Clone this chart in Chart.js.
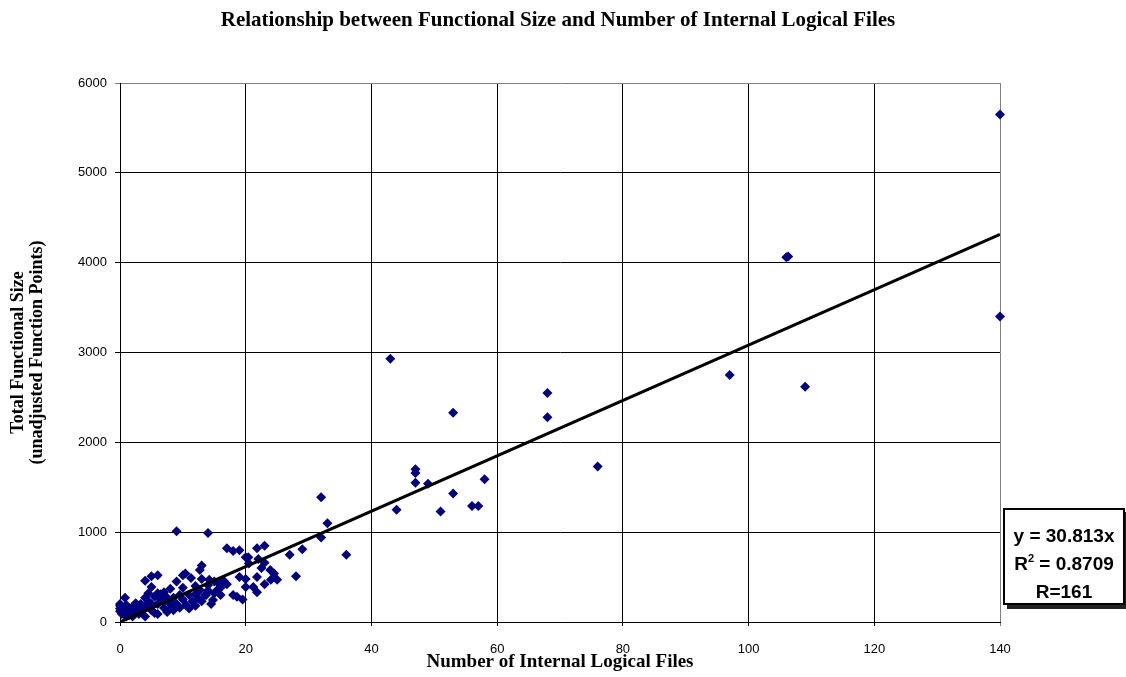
<!DOCTYPE html>
<html>
<head>
<meta charset="utf-8">
<script src="https://cdn.jsdelivr.net/npm/chart.js@4"></script>
<style>
  body { margin: 0; background: #fff; }
  #wrap { position: relative; width: 1126px; height: 677px; overflow: hidden; }
  #chartTitle {
    position: absolute; left: 158px; top: 6px; width: 800px; text-align: center;
    font: bold 21px "Liberation Serif", "Times New Roman", serif; color: #000;
    line-height: 26px; white-space: nowrap;
  }
  #fitBox {
    position: absolute; left: 1003px; top: 508px; width: 122px; height: 97px;
    box-sizing: border-box; border: 2px solid #000; background: #fff;
    box-shadow: 4px 4px 0 #222;
    font: bold 19px "Liberation Sans", Arial, sans-serif; text-align: center;
    line-height: 28px; padding-top: 12px;
  }
  #fitBox sup { font-size: 11px; vertical-align: 8px; line-height: 0; }
</style>
</head>
<body>
<div id="wrap">
  <canvas id="ilfChart" width="1126" height="677"></canvas>
  <div id="chartTitle">Relationship between Functional Size and Number of Internal Logical Files</div>
  <div id="fitBox">y = 30.813x<br>R<sup>2</sup> = 0.8709<br>R=161</div>
</div>
<script>
// number of internal logical files per project
const ilfCount = [
  0, 0, 0, 0, 0.3, 0.5, 0.8, 1, 1, 1, 1.5, 1.5, 2, 2, 2, 2.5, 2.5,
  3, 3, 3.3, 3.5, 4, 4, 4, 4, 4.5, 4.5, 5, 5, 5, 5, 5.5, 5.5,
  6, 6, 6, 6, 6.5, 6.5, 7, 7, 7, 7.5, 7.5, 8, 8, 8, 8.5, 8.5,
  9, 9, 9, 9.5, 9.5, 10, 10, 10, 10.4, 10.5, 11, 11, 11.3, 11.5,
  12, 12, 12, 12.5, 12.7, 12.7, 13, 13, 13, 13.5, 13.7, 14, 14, 14, 14.2, 14.5,
  15, 14.8, 15, 15.5, 15.8, 16, 16, 16.5, 17, 17,
  18, 18, 18.6, 19, 19, 19.5, 20, 20, 20.4, 20, 20.5,
  21.2, 21.8, 21.8, 21.8, 22, 22.5, 23, 23, 23, 23.9, 24, 25, 24.5,
  27, 28, 29, 32, 32, 33, 36, 43, 44, 47, 47, 47, 49, 51, 53, 53,
  56, 57, 58, 68, 68, 76, 97, 106, 106.3, 109, 140, 140
];
// total functional size (unadjusted function points)
const functionalSize = [
  150, 180, 120, 200, 90, 160, 270, 60, 110, 190, 80, 140, 100, 170, 60, 210, 130,
  90, 150, 200, 120, 270, 170, 60, 460, 320, 230, 510, 390, 130, 200, 280, 100,
  520, 200, 320, 90, 310, 250, 155, 230, 330, 110, 270, 200, 150, 370, 270, 130,
  1010, 450, 200, 300, 160, 380, 250, 520, 540, 190, 300, 150, 490, 230,
  400, 310, 180, 260, 355, 580, 630, 480, 230, 300, 300, 990, 410, 350, 470, 200,
  320, 245, 450, 360, 420, 380, 300, 460, 820, 420,
  300, 790, 280, 800, 500, 250, 390, 720, 720, 480, 650,
  390, 500, 330, 820, 700, 600, 850, 660, 420, 580, 470, 470, 540,
  750, 510, 810, 1390, 940, 1100, 750, 2930, 1250, 1700, 1660, 1550, 1540, 1230, 2330, 1430,
  1290, 1290, 1590, 2550, 2280, 1730, 2750, 4060, 4070, 2620, 5650, 3400
];
const trendSlope = 30.813;
const xRange = [0, 140];

const points = ilfCount.map((x, i) => ({ x: x, y: functionalSize[i] }));
const trendLine = xRange.map(x => ({ x: x, y: x * trendSlope }));

const serif = '"Liberation Serif", "Times New Roman", serif';
const sans = '"Liberation Sans", Arial, sans-serif';

new Chart(document.getElementById("ilfChart"), {
  type: "scatter",
  data: {
    datasets: [
      {
        type: "line",
        data: trendLine,
        borderColor: "#000",
        borderWidth: 3,
        pointRadius: 0,
        fill: false,
      },
      {
        data: points,
        pointStyle: "rectRot",
        pointRadius: 5,
        backgroundColor: "#000080",
        borderColor: "#000080",
        borderWidth: 0,
        clip: false,
      },
    ],
  },
  options: {
    responsive: false,
    animation: false,
    layout: { padding: { left: 0, right: 126, top: 83, bottom: 0 } },
    plugins: {
      legend: { display: false },
      tooltip: { enabled: false },
      title: { display: false },
    },
    scales: {
      x: {
        type: "linear",
        min: 0,
        max: 140,
        afterFit: s => { s.height = 55; },
        ticks: { stepSize: 20, color: "#000", padding: 16, font: { family: sans, size: 13 } },
        grid: {
          color: c => (c.index === 7 ? "#808080" : "#000"),
          lineWidth: 1,
          tickLength: 4,
        },
        border: { color: "#000", width: 1 },
        title: {
          display: true,
          text: "Number of Internal Logical Files",
          color: "#000",
          font: { family: serif, size: 19, weight: "bold", lineHeight: 1.2 },
          padding: { top: 0, bottom: 4 },
        },
      },
      y: {
        min: 0,
        max: 6000,
        afterFit: s => { s.width = 120; },
        ticks: {
          stepSize: 1000,
          color: "#000",
          padding: 8,
          font: { family: sans, size: 13 },
          callback: v => String(v),
        },
        grid: {
          color: c => (c.index === 6 ? "#808080" : "#000"),
          lineWidth: 1,
          tickLength: 5,
        },
        border: { color: "#000", width: 1 },
        title: {
          display: true,
          text: ["Total Functional Size", "(unadjusted Function Points)"],
          color: "#000",
          font: { family: serif, size: 18, weight: "bold", lineHeight: 1.1 },
          padding: { top: 8, bottom: 0 },
        },
      },
    },
  },
});
</script>
</body>
</html>
